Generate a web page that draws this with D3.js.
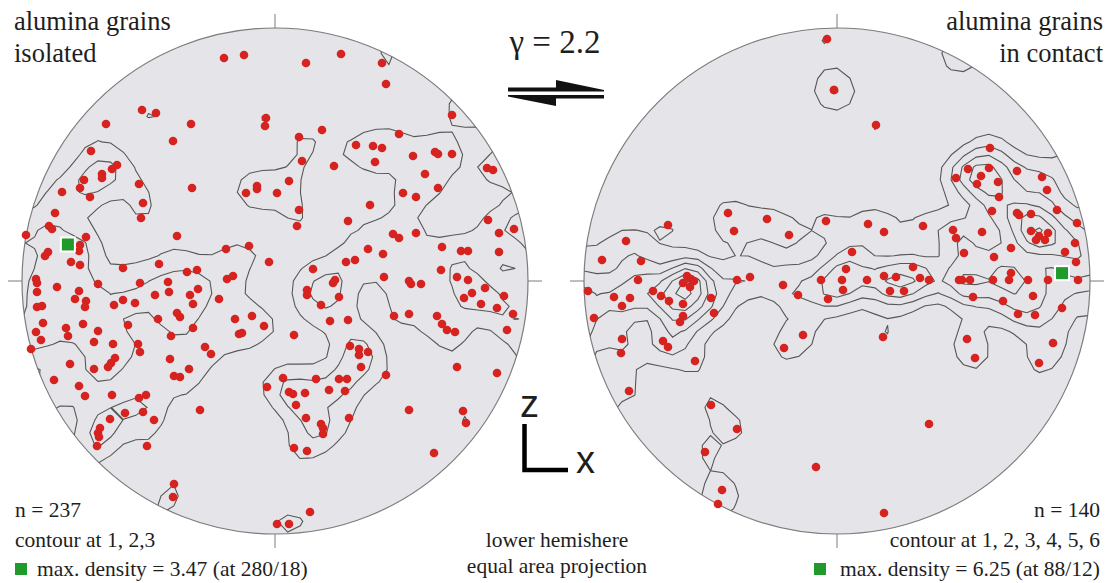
<!DOCTYPE html>
<html><head><meta charset="utf-8">
<script src="https://cdn.jsdelivr.net/npm/d3@7"></script>
<style>
body{margin:0;background:#fff}
svg{display:block}
text{font-family:"Liberation Serif","Times New Roman",serif;fill:#1e1e1e}
</style>
</head><body>
<svg id="chart" width="1110" height="583"></svg>
<script>
// ---------- DATA (projected east/north in net units; primitive circle radius = 253) ----------
const NET_RADIUS_UNITS = 253;
const leftPoints = [
[-51,223],[-31,226],[31,218],[66,227],[-133,171],[-119,168],[-169,157],[-84,157],[-9,163],[-10,155],[47,151],[24,144],[-102,140],[81,136],[-184,130],[27,120],[59,115],[-158,116],[-163,112],[-173,107],[-173,103],[-191,101],[-195,93],[-213,89],[-136,97],[-83,93],[14,100],[-18,95],[-18,92],[-29,88],[2,88],[-185,84],
[107,218],[111,197],[177,166],[124,147],[98,135],[107,133],[100,119],[138,125],[160,129],[163,127],[177,127],[150,107],[212,113],[218,111],[163,93],[128,88],[141,84],
[-132,78],[-134,63],[-220,68],[-226,55],[-223,52],[-249,46],[-189,44],[-195,36],[-196,30],[-227,29],[-230,25],[-204,19],[-195,16],[-239,2],[-238,-2],[-218,-6],[-238,-11],[-196,-10],[-200,-18],[-189,-20],[-190,-26],[-233,-25],[-238,-26],[-232,-42],[-239,-51],[-234,-59],[-244,-68],[-209,-47],[-207,-55],[-192,-43],[-177,-50],[-181,-61],[-162,-63],[-205,-83],[-181,-88],[-167,-86],[-164,-82],[-160,-77],[-177,-3],[-152,13],[-161,-24],[-152,-19],[-140,-22],[-147,-44],[-137,-63],[-135,-71],[-135,-2],[-116,17],[-98,45],[-107,-1],[-106,-11],[-120,-14],[-117,-38],[-98,-32],[-95,-36],[-104,-55],[-88,9],[-78,11],[-77,-8],[-85,-14],[-82,-23],[-82,-47],[-105,-78],[-86,-88],[-101,-95],[-95,-96],[-70,-66],[-64,-73],[-49,32],[-26,35],[-6,19],[-48,2],[-42,5],[-56,-18],[-40,-38],[-23,-35],[-36,-53],[-33,-52],[-11,-45],[19,-54],[24,71],[22,55],[73,60],[95,76],[38,12],[71,19],[80,21],[58,-2],[60,1],[32,-9],[32,-14],[64,-16],[46,-24],[55,-40],[73,-39],[93,32],[75,-65],[84,-68],[84,-74],[93,-71],[86,-86],[64,-98],[72,-98],[41,-98],[8,-97],[-221,-99],
[213,61],[224,48],[239,52],[118,47],[124,43],[141,48],[108,27],[167,34],[186,30],[193,30],[224,29],[166,11],[109,4],[134,0],[136,-3],[146,-3],[182,4],[193,1],[210,-7],[197,-12],[189,-17],[229,-15],[206,-23],[222,-27],[238,-33],[119,-35],[134,-33],[162,-35],[167,-43],[172,-49],[180,-51],[232,-49],[182,-86],[222,-92],[111,-94],
[-196,-105],[-190,-115],[-163,-114],[-136,-117],[-129,-114],[-150,-132],[-132,-131],[-121,-139],[-165,-138],[-175,-147],[-177,-152],[-176,-156],[-178,-165],[-128,-165],[-75,-129],[-101,-203],[-102,-216],[-8,-106],[14,-111],[18,-113],[30,-112],[21,-124],[54,-109],[70,-110],[31,-137],[46,-143],[48,-147],[48,-153],[74,-137],[19,-167],[32,-170],[35,-231],[2,-243],[14,-243],
[134,-129],[188,-130],[191,-142],[159,-172]
];
const rightPoints = [
[-10,242],[-3,191],[-3,191],[39,156],[153,133],[131,112],[119,103],[144,105],[140,97],[152,113],[161,99],[180,110],[205,104],[210,91],[162,84],
[-169,56],[-109,68],[-103,50],[-211,40],[-235,21],[-196,20],[-100,1],[-249,-10],[-223,-16],[-207,-17],[-199,1],[-215,-25],[-184,-10],[-176,-15],[-168,-20],[-150,5],[-154,-2],[-146,2],[-143,0],[-147,-6],[-154,-23],[-154,-35],[-157,-41],[-126,-17],[-123,-32],[-243,-37],[-215,-58],[-216,-72],[-174,-60],[-169,-66],[-142,-80],
[-70,62],[-11,60],[31,57],[47,49],[86,55],[-48,46],[155,70],[180,68],[182,66],[194,67],[220,71],[240,58],[116,51],[119,43],[145,49],[194,50],[202,45],[211,48],[199,41],[208,41],[238,38],[174,33],[127,28],[157,24],[228,29],[239,19],[15,29],[9,12],[76,14],[-87,4],[-54,-4],[-39,-14],[-16,1],[5,1],[6,-9],[-9,-18],[30,1],[47,5],[59,4],[53,-10],[67,-10],[83,3],[92,1],[122,1],[125,1],[133,1],[156,1],[172,1],[174,8],[191,1],[211,1],[241,1],[136,-16],[166,-20],[196,-15],[181,-33],[198,-34],[225,-27],[-34,-54],[-53,-67],[46,-56],[130,-58],[138,-77],[216,-62],[202,-82],
[-208,-110],[-126,-124],[-100,-148],[-132,-171],[-115,-209],[-119,-223],
[92,-143],[-21,-186],[47,-232]
];
const leftLevels = [1, 2, 3];
const rightLevels = [1, 2, 3, 4, 5, 6];
const leftMax = {trend: 280, plunge: 18, value: 3.47};
const rightMax = {trend: 88, plunge: 12, value: 6.25};
const leftTitle = ["alumina grains", "isolated"];
const rightTitle = ["alumina grains", "in contact"];
const leftInfo = ["n = 237", "contour at 1, 2,3", "max. density = 3.47 (at 280/18)"];
const rightInfo = ["n = 140", "contour at 1, 2, 3, 4, 5, 6", "max. density = 6.25 (at 88/12)"];
const centerInfo = ["lower hemishere", "equal area projection"];
const shearLabel = "γ = 2.2";

// ---------- DRAW ----------
const svg = d3.select("#chart");
const Rpx = 253;
const NET_FILL = "#e5e5e9", NET_STROKE = "#7c7c7c", CONTOUR = "#575757", RED = "#d6231f", GREEN = "#1f9a2b";
const defs = svg.append("defs");

function eqArea(trend, plunge) {
  const rho = NET_RADIUS_UNITS * Math.SQRT2 * Math.sin((90 - plunge) / 2 * Math.PI / 180);
  const t = trend * Math.PI / 180;
  return [rho * Math.sin(t), rho * Math.cos(t)];
}

function reflect(p) {
  const rho = Math.hypot(p[0], p[1]);
  if (rho < 1e-6) return null;
  const c = 2 * Math.asin(Math.min(1, rho / (NET_RADIUS_UNITS * Math.SQRT2)));
  const rho2 = NET_RADIUS_UNITS * Math.SQRT2 * Math.sin((Math.PI - c) / 2);
  return [-p[0] * rho2 / rho, -p[1] * rho2 / rho];
}

function drawNet(id, cx, cy, pts, levels, maxPt) {
  const x = d3.scaleLinear().domain([-NET_RADIUS_UNITS, NET_RADIUS_UNITS]).range([cx - Rpx, cx + Rpx]);
  const y = d3.scaleLinear().domain([-NET_RADIUS_UNITS, NET_RADIUS_UNITS]).range([cy + Rpx, cy - Rpx]);
  const g = svg.append("g");

  const tk = 14;
  g.append("g").attr("stroke", NET_STROKE).attr("stroke-width", 1)
    .selectAll("line").data([[0,1],[0,-1],[1,0],[-1,0]]).join("line")
    .attr("x1", d => x(d[0] * NET_RADIUS_UNITS))
    .attr("y1", d => y(d[1] * NET_RADIUS_UNITS))
    .attr("x2", d => x(d[0] * NET_RADIUS_UNITS) + d[0] * tk)
    .attr("y2", d => y(d[1] * NET_RADIUS_UNITS) - d[1] * tk);

  g.append("circle").attr("cx", x(0)).attr("cy", y(0)).attr("r", Rpx)
    .attr("fill", NET_FILL).attr("stroke", NET_STROKE).attr("stroke-width", 1.2);

  defs.append("clipPath").attr("id", id).append("circle")
    .attr("cx", x(0)).attr("cy", y(0)).attr("r", Rpx);

  // density grid: Gaussian-smoothed counts with antipodal wrap, in multiples of uniform density
  const step = NET_RADIUS_UNITS / 20;
  const M = Math.ceil(NET_RADIUS_UNITS / step) + 2;
  const n = 2 * M + 1;
  const all = pts.concat(pts.map(reflect).filter(Boolean));
  const sigma = 16;
  const uniform = pts.length / (Math.PI * NET_RADIUS_UNITS * NET_RADIUS_UNITS);
  const norm = 1 / (2 * Math.PI * sigma * sigma) / uniform;
  const vals = new Array(n * n).fill(0);
  for (let j = 0; j < n; j++) {
    for (let i = 0; i < n; i++) {
      const e = -M * step + i * step, nn = M * step - j * step;
      let s = 0;
      for (const p of all) {
        const dx = p[0] - e, dy = p[1] - nn;
        const d2 = dx * dx + dy * dy;
        if (d2 < 16 * sigma * sigma) s += Math.exp(-d2 / (2 * sigma * sigma));
      }
      vals[j * n + i] = s * norm;
    }
  }
  const contours = d3.contours().size([n, n]).thresholds(levels)(vals);
  const tf = d3.geoTransform({
    point(gx, gy) {
      this.stream.point(x(-M * step + (gx - 0.5) * step), y(M * step - (gy - 0.5) * step));
    }
  });
  g.append("g").attr("clip-path", `url(#${id})`)
    .selectAll("path").data(contours).join("path")
    .attr("d", d3.geoPath(tf))
    .attr("fill", "none").attr("stroke", CONTOUR).attr("stroke-width", 1.1)
    .attr("stroke-linejoin", "miter");

  g.append("g").selectAll("circle").data(pts).join("circle")
    .attr("cx", d => x(d[0])).attr("cy", d => y(d[1])).attr("r", 4.3)
    .attr("fill", RED);

  const mp = eqArea(maxPt.trend, maxPt.plunge);
  g.append("rect").attr("x", x(mp[0]) - 7).attr("y", y(mp[1]) - 7)
    .attr("width", 14).attr("height", 14)
    .attr("fill", GREEN).attr("stroke", "#fff").attr("stroke-width", 2);
}

drawNet("clipL", 275, 281, leftPoints, leftLevels, leftMax);
drawNet("clipR", 837, 281, rightPoints, rightLevels, rightMax);

// titles
svg.append("g").selectAll("text").data(leftTitle).join("text")
  .attr("x", 14).attr("y", (d, i) => 30 + i * 32).attr("font-size", 26.5).text(d => d);
svg.append("g").selectAll("text").data(rightTitle).join("text")
  .attr("x", 1103).attr("y", (d, i) => 30 + i * 32).attr("font-size", 26.5)
  .attr("text-anchor", "end").text(d => d);

svg.append("text").attr("x", 555).attr("y", 53).attr("font-size", 33)
  .attr("text-anchor", "middle").text(shearLabel);

// shear arrows
svg.append("path").attr("fill", "#111")
  .attr("d", "M508,87.5 L556,87.5 L556,80 L604,90 L604,91.5 L508,91.5 Z");
svg.append("path").attr("fill", "#111")
  .attr("d", "M604,95 L604,98.5 L556,98.5 L556,106 L508,96.5 L508,95 Z");

// info texts
const infoY = [517, 547, 576];
svg.append("g").selectAll("text").data(leftInfo).join("text")
  .attr("x", (d, i) => i === 2 ? 37 : 15).attr("y", (d, i) => infoY[i])
  .attr("font-size", 21.5).text(d => d);
svg.append("rect").attr("x", 15).attr("y", 563).attr("width", 12).attr("height", 12).attr("fill", GREEN);

svg.append("g").selectAll("text").data(rightInfo).join("text")
  .attr("x", 1100).attr("y", (d, i) => infoY[i])
  .attr("text-anchor", "end").attr("font-size", 21.5).text(d => d);
svg.append("rect").attr("x", 814).attr("y", 563).attr("width", 12).attr("height", 12).attr("fill", GREEN);

svg.append("g").selectAll("text").data(centerInfo).join("text")
  .attr("x", 557).attr("y", (d, i) => [547, 573][i])
  .attr("text-anchor", "middle").attr("font-size", 21.5).text(d => d);

// axis symbol
const ax = svg.append("g");
ax.append("path").attr("fill", "none").attr("stroke", "#000").attr("stroke-width", 4.5)
  .attr("d", "M524.5,424 L524.5,470 L568,470");
ax.append("text").attr("x", 520).attr("y", 417).attr("font-size", 38)
  .style("font-family", "'Liberation Sans',Arial,sans-serif").text("z");
ax.append("text").attr("x", 576).attr("y", 473).attr("font-size", 38)
  .style("font-family", "'Liberation Sans',Arial,sans-serif").text("x");
</script>
</body></html>
